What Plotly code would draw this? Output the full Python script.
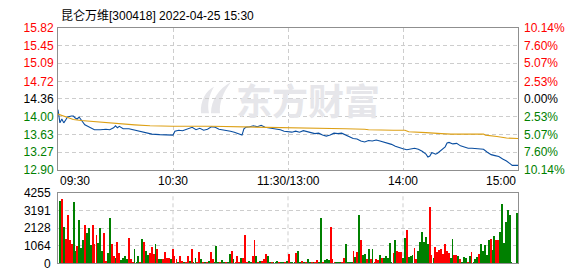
import plotly.graph_objects as go

W, H = 578, 276

title_text = "昆仑万维[300418] 2022-04-25 15:30"
prev_close = 14.36
price_ticks = [15.82, 15.45, 15.09, 14.72, 14.36, 14.00, 13.63, 13.27, 12.90]
pct_labels = ["10.14%", "7.60%", "5.07%", "2.53%", "0.00%", "2.53%", "5.07%", "7.60%", "10.14%"]
vol_ticks = [0, 1064, 2128, 3191, 4255]
time_ticks = [0, 60, 120, 180, 240]
time_labels = ["09:30", "10:30", "11:30/13:00", "14:00", "15:00"]

# minute index (0 = 09:30, 120 = 11:30/13:00, 240 = 15:00) and price
price_min = [0, 1, 2, 3, 4, 5, 7, 8, 9, 10, 11, 12, 13, 14, 15, 17, 19, 22, 25, 27, 29, 30, 31, 32, 34,
             37, 40, 43, 46, 49, 53, 56, 59, 60, 61, 63, 65, 68, 70, 72, 74, 76, 78, 80, 82, 84, 86,
             88, 90, 92, 95, 96, 97, 98, 100, 102, 104, 106, 108, 110, 113, 116, 118, 120, 122, 124,
             126, 128, 130, 132, 134, 136, 138, 140, 142, 144, 146, 148, 150, 152, 154, 156, 158, 160,
             162, 164, 166, 168, 170, 172, 174, 176, 178, 180, 182, 184, 186, 188, 190, 192, 193, 194,
             195, 196, 197, 198, 200, 202, 203, 204, 206, 208, 210, 212, 214, 216, 218, 220, 222, 224,
             226, 228, 230, 232, 234, 236, 237, 240]
price_val = [14.14, 13.87, 13.95, 13.87, 13.93, 13.99, 14.01, 14.01, 13.97, 13.95, 13.99, 13.93, 13.87,
             13.83, 13.81, 13.77, 13.73, 13.73, 13.74, 13.73, 13.77, 13.81, 13.77, 13.80, 13.75, 13.75,
             13.72, 13.70, 13.66, 13.64, 13.63, 13.62, 13.62, 13.62, 13.70, 13.72, 13.71, 13.75, 13.78,
             13.73, 13.76, 13.72, 13.74, 13.79, 13.78, 13.74, 13.73, 13.71, 13.70, 13.68, 13.64, 13.62,
             13.75, 13.78, 13.79, 13.81, 13.79, 13.82, 13.78, 13.77, 13.74, 13.73, 13.70, 13.69, 13.68,
             13.70, 13.68, 13.71, 13.69, 13.66, 13.65, 13.66, 13.62, 13.60, 13.62, 13.66, 13.65, 13.66,
             13.62, 13.58, 13.55, 13.54, 13.50, 13.48, 13.51, 13.50, 13.52, 13.50, 13.48, 13.45, 13.43,
             13.39, 13.36, 13.34, 13.32, 13.34, 13.35, 13.33, 13.29, 13.23, 13.17, 13.19, 13.26, 13.25,
             13.23, 13.25, 13.32, 13.38, 13.46, 13.47, 13.44, 13.45, 13.40, 13.38, 13.35, 13.35, 13.34,
             13.34, 13.33, 13.27, 13.22, 13.20, 13.18, 13.13, 13.09, 13.03, 13.00, 13.00]

avg_min = [0, 5, 8, 12, 18, 25, 33, 40, 48, 60, 80, 100, 120, 148, 150, 160, 162, 175, 181, 183, 190,
           192, 200, 205, 222, 223, 229, 234, 240]
avg_val = [14.05, 13.99, 13.94, 13.92, 13.90, 13.87, 13.85, 13.83, 13.81, 13.80, 13.80, 13.79, 13.77,
           13.76, 13.75, 13.74, 13.73, 13.72, 13.72, 13.69, 13.68, 13.67, 13.65, 13.64, 13.64, 13.62,
           13.59, 13.56, 13.55]

# volume per minute (lots), 241 values, and direction (R = up, G = down)
volume = [3795, 3910, 2185, 1495, 2914, 1380, 1150, 3680, 728, 1035,
          2645, 920, 1380, 2339, 1840, 2108, 1112, 2300, 1150, 1725,
          1227, 2147, 728, 1840, 115, 650, 2760, 1150, 460, 307,
          1265, 650, 190, 290, 460, 270, 1530, 280, 80, 880,
          80, 460, 80, 1495, 1265, 767, 500, 650, 1000, 575,
          1190, 845, 270, 270, 230, 690, 345, 345, 270, 845,
          460, 270, 80, 460, 115, 80, 80, 460, 150, 845,
          100, 290, 100, 690, 230, 80, 50, 50, 150, 690,
          230, 100, 1035, 100, 50, 190, 100, 50, 100, 537,
          728, 230, 100, 420, 50, 345, 345, 1725, 50, 150,
          100, 420, 1380, 420, 100, 150, 150, 230, 537, 420,
          100, 50, 50, 50, 150, 50, 50, 50, 50, 150,
          537, 50,
          50, 50, 633, 748, 30, 150, 50, 50, 230, 80,
          50, 50, 50, 170, 50, 2760, 50, 170, 230, 170,
          2185, 230, 50, 50, 50, 50, 50, 345, 1150, 50,
          50, 50, 748, 400, 690, 2933, 1380, 518, 575, 230,
          860, 230, 860, 50, 230, 170, 518, 290, 290, 460,
          345, 1208, 80, 633, 1437, 748, 690, 690, 345, 1553,
          2013, 400, 460, 518, 920, 230, 748, 1265, 1898, 1265,
          1610, 1150, 3393, 518, 345, 978, 690, 805, 860, 575,
          1150, 748, 633, 290, 1495, 518, 518, 460, 230, 50,
          400, 345, 100, 460, 690, 50, 230, 400, 575, 1150,
          748, 1093, 518, 1380, 1495, 805, 1668, 1380, 1380, 1898,
          3565, 1208, 2473, 3220, 2933, 40, 0, 0, 3048]
vol_dir = ("GRGRRRRGGR" "GGGRGGGRRR" "GGGRRGGRRG" "RRGGGGRRRG" "GGRGRGGRRR"
           "GRGGRRRRGR" "RRGRRGRRGR" "GGRRGRGRGR" "RGGGRGGRGG" "RGRRRGRRRG"
           "GRRGRGRRRG" "GRGGGRGGRG" "RG"
           "GGRGGRGRGG" "RGRRGGRGGG" "RRRGGGRRGG" "GGRGRGRGGR" "GRGRRRGRGG"
           "GGGRGRRRGG" "RGGGRRGGGG" "GGRRGRRRRR" "RRRGGRRGRG" "GGRGRGGGRG"
           "GGGGRGGRRG" "GGGGGGGGG")

up_color = "#FF0000"
down_color = "#008000"
flat_color = "#000000"


def px(x):
    return x / W


def py(y):
    return 1 - y / H


def tick_color(v):
    if abs(v - prev_close) < 1e-9:
        return flat_color
    return up_color if v > prev_close else down_color


minutes = list(range(len(volume)))
bar_colors = [up_color if d == "R" else down_color for d in vol_dir]

fig = go.Figure()

# price line
fig.add_trace(go.Scatter(x=price_min, y=price_val, mode="lines",
                         line=dict(color="#0A4EA0", width=1.1), xaxis="x", yaxis="y",
                         hoverinfo="skip", showlegend=False))
# average line
fig.add_trace(go.Scatter(x=avg_min, y=avg_val, mode="lines",
                         line=dict(color="#DDA015", width=1.1), xaxis="x", yaxis="y",
                         hoverinfo="skip", showlegend=False))
# invisible trace on the right axis so it renders
fig.add_trace(go.Scatter(x=[price_min[0]], y=[price_val[0]], mode="markers", opacity=0,
                         xaxis="x", yaxis="y2", hoverinfo="skip", showlegend=False))
# volume bars
fig.add_trace(go.Bar(x=minutes, y=volume, marker=dict(color=bar_colors, line=dict(width=0)),
                     width=0.45, xaxis="x2", yaxis="y3", hoverinfo="skip", showlegend=False))

grid_col = "#CDCDCD"
border_col = "#8F8F8F"
num_font = dict(family="Liberation Sans, Arial, sans-serif", size=12, color="#000000")

price_ticktext = ['<span style="color:%s">%.2f</span>' % (tick_color(v), v) for v in price_ticks]
pct_ticktext = ['<span style="color:%s">%s</span>' % (tick_color(v), t)
                for v, t in zip(price_ticks, pct_labels)]

fig.update_layout(
    width=W, height=H,
    margin=dict(l=0, r=0, t=0, b=0),
    paper_bgcolor="white", plot_bgcolor="white",
    showlegend=False,
    bargap=0,
    xaxis=dict(domain=[px(58), px(518)], range=[0, 240], tickvals=time_ticks[1:-1],
               showticklabels=False, ticks="", showgrid=True, gridcolor=grid_col,
               griddash="4px,3px", gridwidth=1, zeroline=False,
               showline=True, linecolor=border_col, linewidth=1, mirror=True,
               anchor="y", fixedrange=True),
    yaxis=dict(domain=[py(172), py(21.7)], range=[price_ticks[-1], price_ticks[0]],
               tickvals=price_ticks, ticktext=price_ticktext, tickfont=num_font,
               ticks="", ticklabelstandoff=1, showgrid=True, gridcolor=grid_col,
               griddash="4px,3px", gridwidth=1, zeroline=False,
               showline=True, linecolor=border_col, linewidth=1, mirror=True,
               anchor="x", fixedrange=True),
    yaxis2=dict(overlaying="y", side="right", range=[price_ticks[-1], price_ticks[0]],
                tickvals=price_ticks, ticktext=pct_ticktext, tickfont=num_font,
                ticks="", ticklabelstandoff=5, showgrid=False, zeroline=False,
                showline=False, anchor="x", fixedrange=True),
    xaxis2=dict(domain=[px(58), px(518)], range=[-1.2, 240.4], showticklabels=False,
                ticks="", showgrid=False, zeroline=False,
                showline=True, linecolor=border_col, linewidth=1, mirror=True,
                anchor="y3", fixedrange=True),
    yaxis3=dict(domain=[py(270), py(196)], range=[0, vol_ticks[-1]], tickvals=vol_ticks,
                tickfont=num_font, ticks="", ticklabelstandoff=4, showgrid=True,
                gridcolor=grid_col, griddash="4px,3px", gridwidth=1, zeroline=False,
                showline=True, linecolor=border_col, linewidth=1, mirror=True,
                anchor="x2", fixedrange=True),
)

# vertical grid lines in the volume panel, aligned to the main time axis
for t in time_ticks[1:-1]:
    fig.add_shape(type="line", xref="x", yref="y3 domain", x0=t, x1=t, y0=0, y1=1,
                  line=dict(color=grid_col, width=1, dash="4px,3px"), layer="below")

# watermark logo (decorative)
def pth(points):
    s = "M %.5f,%.5f " % (px(points[0][0]), py(points[0][1]))
    rest = points[1:]
    for i in range(0, len(rest), 3):
        (a, b), (c, d), (e, f) = rest[i], rest[i + 1], rest[i + 2]
        s += "C %.5f,%.5f %.5f,%.5f %.5f,%.5f " % (px(a), py(b), px(c), py(d), px(e), py(f))
    return s + "Z"

logo1 = [(201, 112), (200, 99), (206, 88), (214, 84), (209, 93), (207, 102), (209, 112)]
logo2 = [(211, 112), (211, 98), (219, 86), (231, 79), (223, 90), (219, 101), (220, 112)]
for p in (logo1, logo2):
    fig.add_shape(type="path", xref="paper", yref="paper", path=pth(p),
                  fillcolor="#E6E6EA", line=dict(width=0), layer="below")

fig.add_annotation(xref="paper", yref="paper", x=px(308), y=py(97), text="东方财富",
                   showarrow=False, xanchor="center", yanchor="middle",
                   font=dict(family="Noto Sans CJK SC", size=36, color="#E6E6EA", weight="bold"))

# title
fig.add_annotation(xref="paper", yref="paper", x=px(59), y=py(9), text=title_text,
                   showarrow=False, xanchor="left", yanchor="middle",
                   font=dict(family="Liberation Sans, Noto Sans CJK SC, sans-serif", size=12,
                             color="#000000"))

# time labels under the price panel
for i, (t, lab) in enumerate(zip(time_ticks, time_labels)):
    anchor = "left" if i == 0 else ("right" if i == len(time_ticks) - 1 else "center")
    fig.add_annotation(xref="x", yref="paper", x=t, y=py(183.5), text=lab, showarrow=False,
                       xanchor=anchor, yanchor="middle", font=num_font)

fig.write_html("out.html")
